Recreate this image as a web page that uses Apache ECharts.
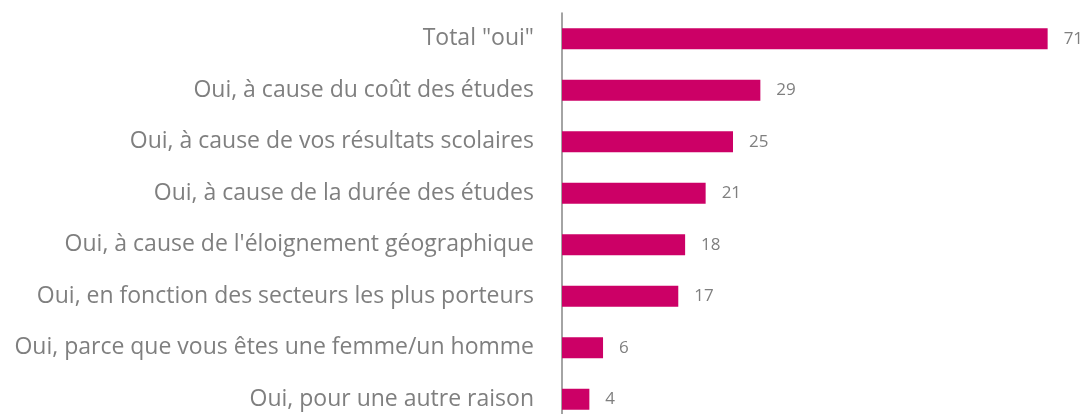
<!DOCTYPE html>
<html>
<head>
<meta charset="utf-8">
<script src="https://cdn.jsdelivr.net/npm/echarts@6/dist/echarts.min.js"></script>
<style>
  html, body { margin: 0; padding: 0; background: #fff; overflow: hidden; }
  #chart { width: 1086px; height: 425px; }
</style>
</head>
<body>
<div id="chart"></div>
<script>
var categories = [
    'Total "oui"',
    'Oui, à cause du coût des études',
    'Oui, à cause de vos résultats scolaires',
    'Oui, à cause de la durée des études',
    "Oui, à cause de l'éloignement géographique",
    'Oui, en fonction des secteurs les plus porteurs',
    'Oui, parce que vous êtes une femme/un homme',
    'Oui, pour une autre raison'
];
var values = [71, 29, 25, 21, 18, 17, 6, 4];

var chart = echarts.init(document.getElementById('chart'));
var option = {
    animation: false,
    grid: {left: 562, top: 13, width: 513, bottom: 0, containLabel: false},
    xAxis: {
        type: 'value', min: 0, max: 75,
        show: false
    },
    yAxis: {
        type: 'category',
        data: categories,
        inverse: true,
        axisLine: {show: true, lineStyle: {color: '#868686', width: 1.5}},
        axisTick: {show: false},
        axisLabel: {
            color: '#7f7f7f',
            fontSize: 23,
            fontFamily: 'Open Sans',
            margin: 28
        }
    },
    series: [{
        type: 'bar',
        data: values,
        barWidth: 21,
        itemStyle: {color: '#CC0066'},
        label: {
            show: true,
            position: 'right',
            distance: 16,
            color: '#7f7f7f',
            fontSize: 17,
            fontFamily: 'Open Sans'
        }
    }]
};
chart.setOption(option);
</script>
</body>
</html>
